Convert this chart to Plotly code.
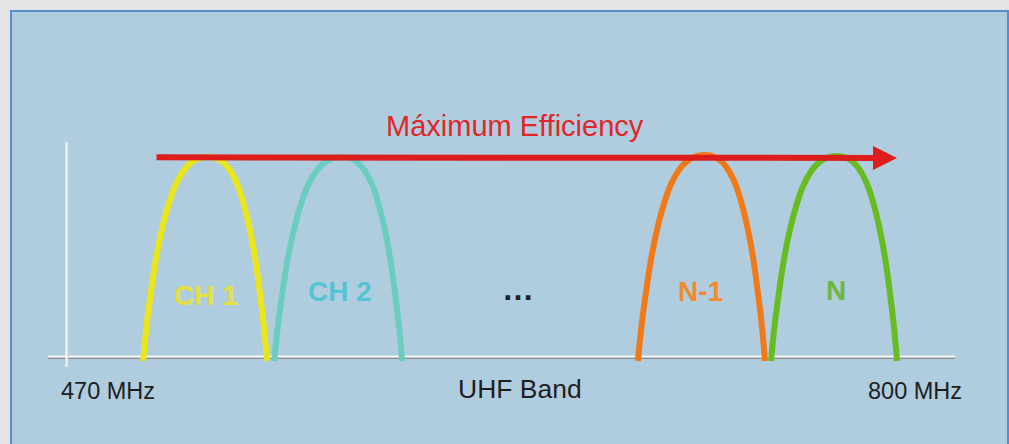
import plotly.graph_objects as go

# ---------------- data ----------------
channel_labels = ["CH 1", "CH 2", "N-1", "N"]
channel_peak_mhz = [522.7, 572.5, 707.2, 756.2]
channel_left_hw_mhz = [24.1, 25.2, 24.9, 24.5]
channel_right_hw_mhz = [21.9, 22.3, 22.3, 22.3]
channel_peak = [1.0, 1.0, 1.01, 1.005]
# normalised arch profile (offset from the peak as a fraction
# of the half width, level as a fraction of the peak)
arch_offsets = [1.0, 0.95, 0.9, 0.8, 0.7, 0.6, 0.5, 0.4, 0.3, 0.2, 0.1, 0.0]
arch_levels = [-0.025, 0.14, 0.27, 0.49, 0.65, 0.77, 0.86, 0.92, 0.96, 0.985, 0.997, 1.0]

band_start_label = "470 MHz"
band_end_label = "800 MHz"
band_title = "UHF Band"
arrow_title = "Máximum Efficiency"

curve_colors = ["#ebe618", "#6bcdc0", "#f07a18", "#67bc22"]
label_colors = ["#e7e03c", "#53c4d2", "#f28a2e", "#6cb83c"]

# ---------------- geometry helpers (pixel -> data) ----------------
W, H = 1009, 444
X0_PX, X1_PX = 66.0, 955.0          # 470 MHz .. 800 MHz
SX = (X1_PX - X0_PX) / (800 - 470)
Y0_PX, Y1_PX = 356.0, 157.0         # amplitude 0 .. 1
SY = Y0_PX - Y1_PX


def px(xp):
    return 470 + (xp - X0_PX) / SX


def py(yp):
    return (Y0_PX - yp) / SY


fig = go.Figure()

# ---------------- channel arches ----------------
for lab, c, lhw, rhw, pk, col in zip(channel_labels, channel_peak_mhz, channel_left_hw_mhz,
                                     channel_right_hw_mhz, channel_peak, curve_colors):
    xs = [c - lhw * t for t in arch_offsets] + [c + rhw * t for t in arch_offsets[::-1][1:]]
    ys = [pk * l for l in arch_levels] + [pk * l for l in arch_levels[::-1][1:]]
    fig.add_trace(go.Scatter(x=xs, y=ys, mode="lines",
                             line=dict(color=col, width=6, shape="spline", smoothing=1.0),
                             hoverinfo="skip", showlegend=False))

# ---------------- shapes: panel + axes ----------------
shapes = [
    dict(type="rect", xref="x", yref="y", x0=px(11), x1=px(1008), y0=py(11), y1=py(470),
         fillcolor="#b0cde0", line=dict(color="#5b8bd0", width=2), layer="below"),
    # horizontal axis (shadow + white)
    dict(type="line", xref="x", yref="y", x0=px(48), x1=px(955), y0=py(358.2), y1=py(358.2),
         line=dict(color="#8c8c8c", width=1.5), layer="below"),
    dict(type="line", xref="x", yref="y", x0=px(48), x1=px(955), y0=py(356.6), y1=py(356.6),
         line=dict(color="#f4f6f8", width=2), layer="below"),
    # vertical axis
    dict(type="line", xref="x", yref="y", x0=px(68), x1=px(68), y0=py(142), y1=py(367),
         line=dict(color="#c9cdd0", width=1), layer="below"),
    dict(type="line", xref="x", yref="y", x0=px(66.5), x1=px(66.5), y0=py(142), y1=py(367),
         line=dict(color="#f4f6f8", width=2), layer="below"),
]

FONT = "Liberation Sans, Arial, sans-serif"
ann = []
# arrow
ann.append(dict(x=px(897), y=py(158), ax=px(155), ay=py(157.3), xref="x", yref="y",
                axref="x", ayref="y", text="", showarrow=True, arrowhead=2,
                arrowwidth=6, arrowsize=0.8, arrowcolor="#dd1c1c", standoff=0))
ann.append(dict(x=px(515), y=py(126), xref="x", yref="y", text=arrow_title, showarrow=False,
                font=dict(family=FONT, size=29, color="#e02626"),
                xanchor="center", yanchor="middle"))
# channel labels
label_pos = [(206, 295), (340, 291), (700, 291), (836, 290)]
for lab, (lx, ly), col in zip(channel_labels, label_pos, label_colors):
    ann.append(dict(x=px(lx), y=py(ly), xref="x", yref="y", text="<b>%s</b>" % lab,
                    showarrow=False, font=dict(family=FONT, size=28, color=col),
                    xanchor="center", yanchor="middle"))
ann.append(dict(x=px(518), y=py(288.5), xref="x", yref="y", text="<b>…</b>",
                showarrow=False, font=dict(family=FONT, size=32, color="#222222"),
                xanchor="center", yanchor="middle"))
# axis labels
ann.append(dict(x=px(108), y=py(391), xref="x", yref="y", text=band_start_label,
                showarrow=False, font=dict(family=FONT, size=23.5, color="#1e1e1e"),
                xanchor="center", yanchor="middle"))
ann.append(dict(x=px(915), y=py(391), xref="x", yref="y", text=band_end_label,
                showarrow=False, font=dict(family=FONT, size=23.5, color="#1e1e1e"),
                xanchor="center", yanchor="middle"))
ann.append(dict(x=px(520), y=py(389), xref="x", yref="y", text=band_title,
                showarrow=False, font=dict(family=FONT, size=26.5, color="#1e1e1e"),
                xanchor="center", yanchor="middle"))

fig.update_layout(
    width=W, height=H, margin=dict(l=0, r=0, t=0, b=0),
    paper_bgcolor="#e4e4e4", plot_bgcolor="#e4e4e4",
    xaxis=dict(range=[px(0), px(W)], visible=False, fixedrange=True),
    yaxis=dict(range=[py(H), py(0)], visible=False, fixedrange=True),
    shapes=shapes, annotations=ann, showlegend=False,
)

fig.write_html("out.html", config={"displayModeBar": False},
               post_script="document.body.style.margin='0';document.body.style.overflow='hidden';")
